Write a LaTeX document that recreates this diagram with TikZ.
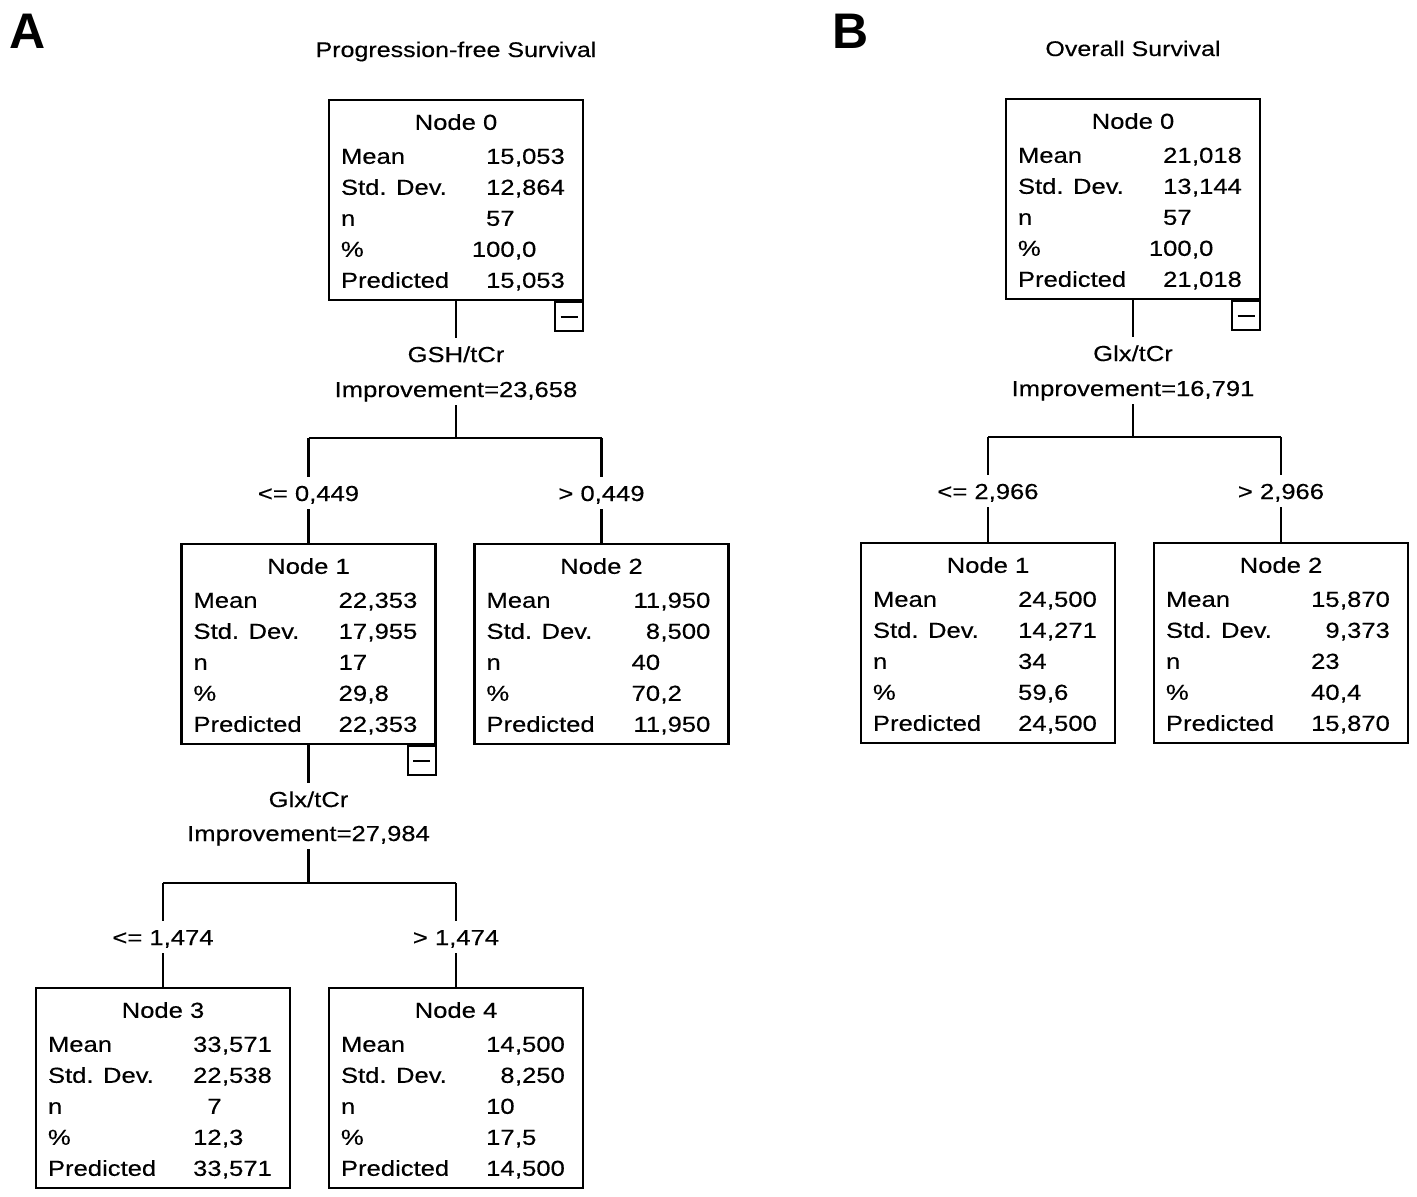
\documentclass[tikz,border=0pt]{standalone}
\usepackage{fontspec}
\setmainfont[FakeStretch=1.18,FakeBold=0.35]{Liberation Sans}
\newfontfamily\panelfont{Liberation Sans}
\usetikzlibrary{calc}
\tikzset{
  tbox/.style={draw, line width=2.4pt, minimum width=254pt, minimum height=200pt, inner sep=0pt},
  cell/.style={inner sep=0pt, font=\fontsize{21.7pt}{25pt}\selectfont},
  lbl/.style={inner xsep=0pt, inner ysep=8pt, text height=15.7pt, text depth=0pt, font=\fontsize{21.7pt}{25pt}\selectfont},
  ttl/.style={inner sep=0pt, font=\fontsize{21.2pt}{25pt}\selectfont},
  panel/.style={inner sep=0pt, font=\panelfont\bfseries\fontsize{50pt}{55pt}\selectfont},
  minusbox/.style={draw, line width=2.2pt, minimum width=28pt, minimum height=29pt, inner sep=0pt},
  conn/.style={line width=2.3pt},
}
\newcommand\srow[5]{%
  \node[cell,anchor=base west] (#1-l#2) at ($(#1.north west)+(13,#2)$) {#3};
  \node[cell,anchor=base east] (#1-i#2) at ($(#1.north west)+(187,#2)$) {#4};
  \node[cell,anchor=base west] (#1-f#2) at ($(#1.north west)+(187,#2)$) {#5};}
\newcommand\tbox[8]{%
  \node[tbox] (#1) at (#2) {};
  \node[cell,anchor=base] (#1-t) at ($(#1.north)+(0,31)$) {#3};
  \srow{#1}{65}{Mean}#4
  \srow{#1}{96}{Std. Dev.}#5
  \srow{#1}{127}{n}#6
  \srow{#1}{158}{\%}#7
  \srow{#1}{189}{Predicted}#8}
\newcommand\minusat[1]{%
  \node[minusbox,anchor=north east] (#1-m) at (#1.south east) {\rule{17pt}{2.2pt}};}
\begin{document}
\begin{tikzpicture}[x=1pt,y=-1pt]
\useasboundingbox (0,0) rectangle (1417,1197);
% panel letters and titles
\node[panel,anchor=base west] (pA) at (9,48) {A};
\node[panel,anchor=base west] (pB) at (832,48) {B};
\node[ttl,anchor=base] (tA) at (456,57) {Progression-free Survival};
\node[ttl,anchor=base] (tB) at (1133,56) {Overall Survival};

% ---------- Panel A ----------
\tbox{a0}{456,200}{Node 0}{{15}{,053}}{{12}{,864}}{{57}{}}{{100}{,0}}{{15}{,053}}
\minusat{a0}
\tbox{a1}{308.5,644}{Node 1}{{22}{,353}}{{17}{,955}}{{17}{}}{{29}{,8}}{{22}{,353}}
\minusat{a1}
\tbox{a2}{601.5,644}{Node 2}{{11}{,950}}{{8}{,500}}{{40}{}}{{70}{,2}}{{11}{,950}}
\tbox{a3}{163,1088}{Node 3}{{33}{,571}}{{22}{,538}}{{7}{}}{{12}{,3}}{{33}{,571}}
\tbox{a4}{456,1088}{Node 4}{{14}{,500}}{{8}{,250}}{{10}{}}{{17}{,5}}{{14}{,500}}

\node[lbl,anchor=base] (sa0v) at (456,362) {GSH/tCr};
\node[lbl,anchor=base] (sa0i) at (456,397) {Improvement=23,658};
\coordinate (ja0) at (456,438);
\node[lbl,anchor=base] (ca1) at (308.5,501) {<= 0,449};
\node[lbl,anchor=base] (ca2) at (601.5,501) {> 0,449};
\draw[conn] (a0.south) -- (sa0v.north);
\draw[conn] (sa0i.south) -- (ja0);
\draw[conn] (ja0 -| a1) -- (ja0 -| a2);
\draw[conn] (ja0 -| a1) -- (ca1.north);
\draw[conn] (ca1.south) -- (a1.north);
\draw[conn] (ja0 -| a2) -- (ca2.north);
\draw[conn] (ca2.south) -- (a2.north);

\node[lbl,anchor=base] (sa1v) at (308.5,807) {Glx/tCr};
\node[lbl,anchor=base] (sa1i) at (308.5,841) {Improvement=27,984};
\coordinate (ja1) at (308.5,883);
\node[lbl,anchor=base] (ca3) at (163,945) {<= 1,474};
\node[lbl,anchor=base] (ca4) at (456,945) {> 1,474};
\draw[conn] (a1.south) -- (sa1v.north);
\draw[conn] (sa1i.south) -- (ja1);
\draw[conn] (ja1 -| a3) -- (ja1 -| a4);
\draw[conn] (ja1 -| a3) -- (ca3.north);
\draw[conn] (ca3.south) -- (a3.north);
\draw[conn] (ja1 -| a4) -- (ca4.north);
\draw[conn] (ca4.south) -- (a4.north);

% ---------- Panel B ----------
\tbox{b0}{1133,199}{Node 0}{{21}{,018}}{{13}{,144}}{{57}{}}{{100}{,0}}{{21}{,018}}
\minusat{b0}
\tbox{b1}{988,643}{Node 1}{{24}{,500}}{{14}{,271}}{{34}{}}{{59}{,6}}{{24}{,500}}
\tbox{b2}{1281,643}{Node 2}{{15}{,870}}{{9}{,373}}{{23}{}}{{40}{,4}}{{15}{,870}}

\node[lbl,anchor=base] (sb0v) at (1133,361) {Glx/tCr};
\node[lbl,anchor=base] (sb0i) at (1133,396) {Improvement=16,791};
\coordinate (jb0) at (1133,437);
\node[lbl,anchor=base] (cb1) at (988,499) {<= 2,966};
\node[lbl,anchor=base] (cb2) at (1281,499) {> 2,966};
\draw[conn] (b0.south) -- (sb0v.north);
\draw[conn] (sb0i.south) -- (jb0);
\draw[conn] (jb0 -| b1) -- (jb0 -| b2);
\draw[conn] (jb0 -| b1) -- (cb1.north);
\draw[conn] (cb1.south) -- (b1.north);
\draw[conn] (jb0 -| b2) -- (cb2.north);
\draw[conn] (cb2.south) -- (b2.north);
\end{tikzpicture}
\end{document}
